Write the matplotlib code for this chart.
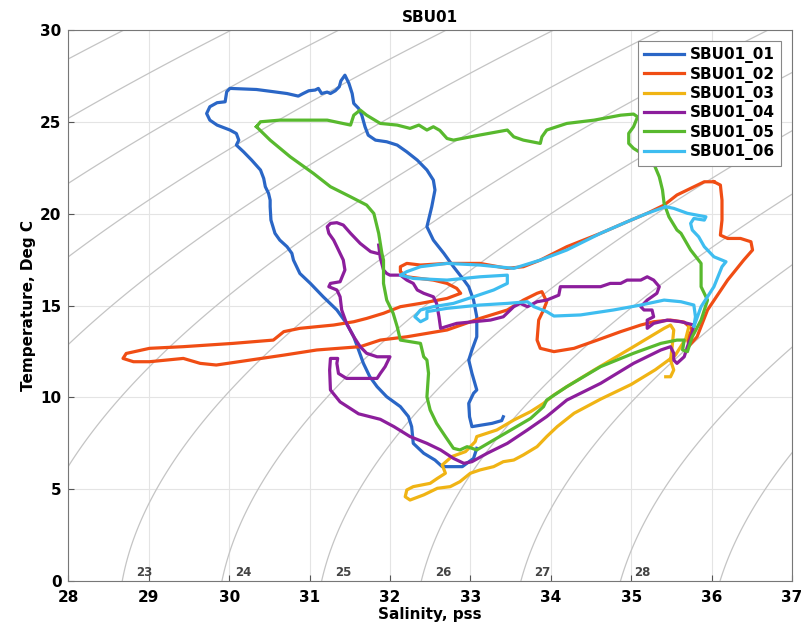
import numpy as np
import matplotlib
matplotlib.use("Agg")
import matplotlib.pyplot as plt

# --- casts, salinity (pss) / temperature (deg C) ---
s01 = [33.08, 33.04, 32.90, 32.65, 32.56, 32.42, 32.29, 32.27, 32.23, 32.13, 31.96, 31.84, 31.75,
       31.67, 31.61, 31.55, 31.46, 31.34, 31.17, 31.01, 30.88, 30.80, 30.78, 30.72, 30.63, 30.57,
       30.52, 30.51, 30.51, 30.49, 30.45, 30.43, 30.39, 30.28, 30.18, 30.09, 30.12, 30.09, 30.01,
       29.85, 29.76, 29.72, 29.76, 29.85, 29.95, 29.97, 30.01, 30.34, 30.55, 30.72, 30.86, 30.92,
       30.99, 31.07, 31.11, 31.15, 31.22, 31.26, 31.32, 31.37, 31.39, 31.44, 31.49, 31.53, 31.55,
       31.61, 31.65, 31.69, 31.73, 31.82, 31.96, 32.09, 32.21, 32.34, 32.46, 32.54, 32.56, 32.52,
       32.46, 32.54, 32.67, 32.79, 32.92, 32.98, 33.04, 33.08, 33.08, 33.02, 32.98, 33.02, 33.08,
       33.04, 32.98, 32.99, 33.02, 33.27, 33.39, 33.41]
t01 = [7.22, 6.67, 6.22, 6.22, 6.58, 6.95, 7.49, 8.40, 8.95, 9.49, 10.03, 10.58, 11.12,
       11.85, 12.58, 13.30, 14.03, 14.76, 15.48, 16.21, 16.75, 17.48, 17.85, 18.21, 18.57, 18.94,
       19.66, 20.39, 20.75, 21.12, 21.48, 21.93, 22.39, 22.93, 23.38, 23.75, 24.02, 24.38, 24.57,
       24.84, 25.11, 25.47, 25.84, 26.06, 26.11, 26.66, 26.84, 26.78, 26.66, 26.56, 26.42, 26.56,
       26.71, 26.75, 26.84, 26.56, 26.64, 26.56, 26.71, 26.93, 27.25, 27.56, 27.11, 26.56, 26.02,
       25.75, 25.38, 24.75, 24.29, 24.02, 23.93, 23.75, 23.38, 22.93, 22.39, 21.84, 21.30, 20.39,
       19.30, 18.57, 17.85, 17.12, 16.39, 16.03, 15.30, 14.39, 13.30, 12.58, 12.03, 11.31, 10.40,
       10.22, 9.67, 8.94, 8.40, 8.58, 8.73, 8.94]

s02 = [36.03, 36.11, 36.13, 36.13, 36.11, 36.20, 36.36, 36.49, 36.51, 36.40, 36.20, 35.95, 35.82,
       35.72, 35.70, 35.76, 35.66, 35.49, 35.28, 35.12, 34.87, 34.58, 34.29, 34.04, 33.87, 33.83,
       33.85, 33.91, 33.95, 33.89, 33.83, 33.66, 33.46, 33.12, 32.71, 32.21, 31.88, 31.63, 31.09,
       30.68, 30.26, 29.84, 29.64, 29.43, 29.01, 28.81, 28.68, 28.72, 29.01, 29.43, 30.05, 30.55,
       30.68, 30.88, 31.30, 31.55, 31.71, 31.92, 32.13, 32.38, 32.71, 32.88, 32.83, 32.71, 32.54,
       32.21, 32.13, 32.13, 32.21, 32.38, 32.71, 33.12, 33.46, 33.66, 33.87, 34.20, 34.62, 34.95,
       35.20, 35.41, 35.57, 35.74, 35.91, 36.03]
t02 = [21.75, 21.57, 20.75, 19.66, 18.84, 18.66, 18.66, 18.48, 18.03, 17.48, 16.39, 14.76, 13.30,
       12.80, 13.20, 13.70, 14.10, 14.21, 14.12, 13.94, 13.58, 13.12, 12.67, 12.49, 12.67, 13.12,
       14.21, 14.76, 15.21, 15.76, 15.67, 15.30, 14.76, 14.30, 13.67, 13.30, 13.12, 12.76, 12.58,
       12.30, 12.03, 11.76, 11.85, 12.12, 11.94, 11.94, 12.12, 12.39, 12.67, 12.76, 12.94, 13.12,
       13.58, 13.76, 13.94, 14.12, 14.30, 14.58, 14.94, 15.12, 15.39, 15.67, 15.94, 16.21, 16.39,
       16.57, 16.85, 17.12, 17.30, 17.21, 17.30, 17.30, 17.03, 17.12, 17.48, 18.21, 18.94, 19.57,
       20.03, 20.48, 21.03, 21.39, 21.75, 21.75]

s03 = [35.43, 35.49, 35.53, 35.49, 35.51, 35.53, 35.49, 35.41, 35.03, 34.54, 34.20, 34.04, 33.91,
       33.75, 33.54, 33.33, 33.08, 33.06, 32.94, 32.77, 32.65, 32.69, 32.59, 32.50, 32.29, 32.21,
       32.19, 32.25, 32.42, 32.59, 32.75, 32.87, 33.00, 33.12, 33.29, 33.41, 33.54, 33.66, 33.83,
       33.95, 34.08, 34.29, 34.62, 35.00, 35.30, 35.55, 35.68, 35.72]
t03 = [11.12, 11.12, 11.49, 12.03, 12.76, 13.67, 13.94, 13.76, 12.76, 11.49, 10.58, 10.13, 9.67,
       9.22, 8.76, 8.22, 7.86, 7.58, 7.04, 6.77, 6.31, 5.86, 5.58, 5.31, 5.13, 4.95,
       4.58, 4.40, 4.68, 5.04, 5.13, 5.40, 5.86, 6.04, 6.22, 6.49, 6.58, 6.86, 7.31,
       7.86, 8.40, 9.13, 9.90, 10.70, 11.50, 12.30, 13.20, 13.90]

s04 = [31.86, 31.88, 31.92, 31.96, 32.00, 32.13, 32.21, 32.29, 32.34, 32.42, 32.54, 32.58, 32.61,
       32.63, 32.83, 33.04, 33.25, 33.41, 33.54, 33.62, 33.71, 33.83, 33.95, 34.10, 34.12, 34.29,
       34.45, 34.62, 34.74, 34.87, 34.95, 35.03, 35.12, 35.20, 35.28, 35.35, 35.32, 35.20, 35.12,
       35.16, 35.26, 35.28, 35.20, 35.20, 35.28, 35.45, 35.62, 35.78, 35.76, 35.70, 35.66, 35.57,
       35.53, 35.53, 35.49, 35.37, 35.03, 34.62, 34.20, 33.95, 33.71, 33.46, 33.21, 33.02, 32.92,
       32.79, 32.63, 32.46, 32.25, 32.05, 31.88, 31.61, 31.38, 31.26, 31.25, 31.26, 31.35, 31.34,
       31.36, 31.46, 31.63, 31.84, 31.88, 31.94, 32.00, 31.84, 31.71, 31.63, 31.55, 31.46, 31.40,
       31.38, 31.34, 31.24, 31.26, 31.38, 31.44, 31.42, 31.34, 31.30, 31.24, 31.22, 31.26, 31.34,
       31.42, 31.51, 31.63, 31.76, 31.84]
t04 = [18.30, 17.60, 16.94, 16.75, 16.66, 16.66, 16.39, 16.21, 15.85, 15.67, 15.48, 15.12, 14.39,
       13.76, 14.03, 14.12, 14.21, 14.39, 14.94, 15.12, 14.94, 15.21, 15.30, 15.57, 16.03, 16.03,
       16.03, 16.03, 16.21, 16.21, 16.39, 16.39, 16.39, 16.57, 16.39, 16.03, 15.67, 15.30, 14.94,
       14.76, 14.76, 14.39, 14.21, 13.76, 14.03, 14.21, 14.12, 13.94, 13.49, 12.76, 12.21, 11.85,
       12.03, 12.40, 12.76, 12.58, 11.85, 10.76, 9.85, 8.95, 8.22, 7.49, 6.95, 6.49, 6.40,
       6.67, 7.13, 7.49, 7.86, 8.40, 8.80, 9.10, 9.75, 10.40, 11.49, 12.12, 12.12, 11.85,
       11.30, 11.03, 11.03, 11.03, 11.30, 11.67, 12.21, 12.21, 12.40, 12.76, 13.30, 14.03, 14.76,
       15.48, 15.85, 16.03, 16.21, 16.30, 16.94, 17.48, 18.21, 18.57, 18.94, 19.30, 19.48, 19.52,
       19.39, 18.94, 18.39, 17.94, 17.85]

s05 = [30.34, 30.39, 30.63, 31.22, 31.51, 31.55, 31.63, 31.71, 31.88, 32.09, 32.25, 32.36, 32.46,
       32.54, 32.62, 32.71, 32.79, 33.12, 33.46, 33.54, 33.66, 33.87, 33.89, 33.95, 34.20, 34.54,
       34.87, 35.03, 35.08, 35.03, 34.97, 34.97, 35.03, 35.20, 35.28, 35.35, 35.39, 35.41, 35.47,
       35.57, 35.62, 35.74, 35.87, 35.87, 35.95, 35.87, 35.76, 35.70, 35.64, 35.66, 35.57, 35.37,
       35.03, 34.62, 34.20, 33.95, 33.91, 33.75, 33.54, 33.29, 33.08, 33.02, 32.96, 32.87, 32.79,
       32.69, 32.58, 32.50, 32.46, 32.48, 32.46, 32.42, 32.38, 32.13, 32.09, 32.04, 31.96, 31.92,
       31.92, 31.90, 31.86, 31.80, 31.71, 31.51, 31.26, 31.05, 30.76, 30.51, 30.34]
t05 = [24.75, 25.02, 25.11, 25.11, 24.84, 25.38, 25.66, 25.38, 24.93, 24.84, 24.66, 24.84, 24.57,
       24.75, 24.55, 24.11, 24.02, 24.30, 24.57, 24.20, 24.02, 23.84, 24.20, 24.57, 24.93, 25.11,
       25.38, 25.44, 25.29, 24.75, 24.39, 23.84, 23.57, 23.11, 22.75, 22.02, 21.30, 20.57, 19.84,
       19.12, 18.94, 18.03, 17.30, 16.03, 15.30, 14.21, 13.30, 12.49, 12.58, 13.12, 13.12, 12.94,
       12.40, 11.67, 10.58, 9.85, 9.49, 8.85, 8.31, 7.67, 7.13, 7.22, 7.31, 7.13, 7.22,
       7.86, 8.58, 9.31, 10.03, 11.31, 12.03, 12.21, 12.94, 13.12, 13.85, 14.58, 15.30, 16.21,
       17.48, 17.85, 18.94, 20.02, 20.48, 20.93, 21.48, 22.20, 23.11, 24.02, 24.75]

s06 = [35.43, 35.20, 34.95, 34.62, 34.20, 33.87, 33.54, 33.12, 32.71, 32.38, 32.21, 32.13, 32.29,
       32.71, 33.12, 33.46, 33.46, 33.29, 33.04, 32.79, 32.54, 32.38, 32.31, 32.38, 32.46, 32.46,
       32.71, 33.12, 33.46, 33.71, 33.79, 33.95, 34.04, 34.37, 34.78, 35.12, 35.41, 35.62, 35.78,
       35.80, 35.78, 35.87, 36.03, 36.13, 36.18, 36.03, 35.91, 35.84, 35.76, 35.74, 35.78, 35.91,
       35.93, 35.82, 35.70, 35.53, 35.43]
t06 = [20.39, 20.03, 19.57, 18.94, 18.03, 17.48, 17.03, 17.21, 17.30, 17.12, 16.85, 16.66, 16.48,
       16.39, 16.57, 16.66, 16.21, 15.85, 15.48, 15.12, 14.94, 14.76, 14.39, 14.12, 14.30, 14.67,
       14.85, 15.03, 15.12, 15.21, 14.94, 14.67, 14.43, 14.49, 14.76, 15.03, 15.30, 15.21, 15.03,
       14.39, 13.85, 14.94, 16.03, 17.12, 17.39, 17.66, 18.21, 18.75, 19.12, 19.48, 19.75, 19.66,
       19.84, 19.93, 20.03, 20.30, 20.39]

names = ["SBU01_01", "SBU01_02", "SBU01_03", "SBU01_04", "SBU01_05", "SBU01_06"]
colors = ["#2a66c6", "#f04d14", "#f0b414", "#8c1e9c", "#58b92e", "#3ebdf0"]
casts = [(s01, t01), (s02, t02), (s03, t03), (s04, t04), (s05, t05), (s06, t06)]

sig_levels = np.arange(17, 30)
sig_labels = [23, 24, 25, 26, 27, 28]


def sigma_t(S, T):
    # UNESCO 1980 equation of state at p = 0
    rw = (999.842594 + 6.793952e-2 * T - 9.095290e-3 * T**2 + 1.001685e-4 * T**3
          - 1.120083e-6 * T**4 + 6.536332e-9 * T**5)
    A = 8.24493e-1 - 4.0899e-3 * T + 7.6438e-5 * T**2 - 8.2467e-7 * T**3 + 5.3875e-9 * T**4
    B = -5.72466e-3 + 1.0227e-4 * T - 1.6546e-6 * T**2
    C = 4.8314e-4
    return rw + A * S + B * S**1.5 + C * S**2 - 1000.0


plt.rcParams['font.family'] = ['DejaVu Sans']
plt.rcParams['font.weight'] = 'bold'

fig = plt.figure(figsize=(8.04, 6.34), dpi=100)
ax = fig.add_axes([0.085, 0.084, 0.900, 0.868])

sg, tg = np.meshgrid(np.linspace(27.5, 37.5, 300), np.linspace(-1, 31, 300))
ax.contour(sg, tg, sigma_t(sg, tg), levels=sig_levels, colors="#c4c4c4", linewidths=0.9, zorder=1)

sfine = np.linspace(27, 38, 2000)
for lv in sig_labels:
    s0 = np.interp(lv, sigma_t(sfine, 0.0), sfine)
    ax.text(s0 + 0.27, 0.12, str(lv), fontsize=8.5, color="#444444", ha="center", va="bottom",
            fontweight="bold", zorder=2)

for (s, t), nm, c in zip(casts, names, colors):
    ax.plot(s, t, color=c, lw=2.3, label=nm, zorder=3, solid_joinstyle="round")

ax.set_xlim(28, 37)
ax.set_ylim(0, 30)
ax.set_xticks(range(28, 38))
ax.set_yticks(range(0, 31, 5))
ax.grid(True, color="#e4e4e4", lw=0.8, zorder=0)
ax.set_axisbelow(True)
ax.tick_params(direction="in", length=4, labelsize=11, color="#555555")
ax.tick_params(axis="x", pad=7)
ax.tick_params(axis="y", pad=5)
for lab in ax.get_xticklabels() + ax.get_yticklabels():
    lab.set_fontweight("bold")
for sp in ax.spines.values():
    sp.set_color("#777777")
    sp.set_linewidth(0.8)

ax.set_title("SBU01", fontsize=11, fontweight="bold", pad=6)
ax.set_xlabel("Salinity, pss", fontsize=11, fontweight="bold", labelpad=1)
ax.set_ylabel("Temperature, Deg C", fontsize=11, fontweight="bold", labelpad=3)

leg = ax.legend(loc="upper right", handlelength=2.6, handletextpad=0.4,
                borderaxespad=0.7, labelspacing=0.22, fancybox=False, framealpha=1,
                edgecolor="#888888", prop={"weight": "bold", "size": 11})
leg.get_frame().set_linewidth(0.8)

fig.savefig("out.png", dpi=100)
